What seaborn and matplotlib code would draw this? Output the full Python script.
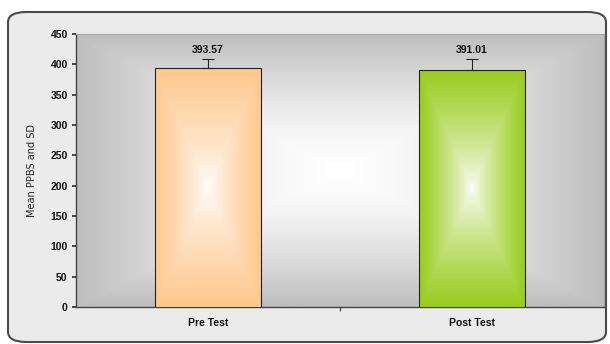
import numpy as np
import pandas as pd
import matplotlib
matplotlib.use("Agg")
import matplotlib.pyplot as plt
import seaborn as sns
from matplotlib.patches import FancyBboxPatch
from matplotlib.colors import to_rgb

categories = ["Pre Test", "Post Test"]
means = [393.57, 391.01]
sds = [14.5, 17.0]
value_labels = ["393.57", "391.01"]
bar_colors = ["#FFC88E", "#99CC1E"]
y_ticks = [0, 50, 100, 150, 200, 250, 300, 350, 400, 450]

sns.set_theme(style="white")
plt.rcParams["font.family"] = ["Liberation Sans Narrow", "Liberation Sans", "DejaVu Sans"]

fig = plt.figure(figsize=(6.10, 3.44), dpi=100)
fig.patch.set_facecolor("white")

# rounded frame
frame = FancyBboxPatch((8/610, 2/344), 598/610, 330/344,
                       boxstyle="round,pad=0,rounding_size=0.03",
                       transform=fig.transFigure, facecolor="#ebebeb",
                       edgecolor="#4a4a4a", linewidth=1.5, zorder=-10)
fig.patches.append(frame)

ax = fig.add_axes([76/610, 1-307/344, 528/610, 273/344])
ax.set_facecolor("none")

df = pd.DataFrame({"cat": categories, "mean": means})
sns.barplot(data=df, x="cat", y="mean", hue="cat", palette=bar_colors,
            width=0.4, edgecolor="#222222", linewidth=0.8, legend=False,
            errorbar=None, ax=ax, zorder=3)

def rect_grad(n, m, p=1.0):
    u = np.linspace(-1, 1, m)[None, :]
    v = np.linspace(-1, 1, n)[:, None]
    d = np.maximum(np.abs(u), np.abs(v))
    return np.clip(d, 0, 1) ** p

# plot-area background gradient
g = rect_grad(200, 200, 1.5)
edge = np.array(to_rgb("#bdbdbd"))
img = (1 - g[..., None]) * np.ones(3) + g[..., None] * edge
ax.imshow(img, extent=(0, 1, 0, 1), transform=ax.transAxes, aspect="auto",
          zorder=0, interpolation="bilinear")

# bar gradients
for patch, col in zip(ax.patches, bar_colors):
    x0, y0 = patch.get_x(), patch.get_y()
    w, h = patch.get_width(), patch.get_height()
    gg = rect_grad(200, 100, 0.75)
    c = np.array(to_rgb(col))
    im = (1 - gg[..., None]) * np.ones(3) + gg[..., None] * c
    ii = ax.imshow(im, extent=(x0, x0 + w, y0, y0 + h), aspect="auto",
                   zorder=3.5, interpolation="bilinear")
    ii.set_clip_path(patch)
    patch.set_zorder(4)
    patch.set_facecolor("none")

xs = np.arange(len(categories))
ax.errorbar(xs, means, yerr=[np.zeros(len(sds)), sds], fmt="none",
            ecolor="#222222", elinewidth=0.8, capsize=4, capthick=0.8, zorder=5)
for x, m, s, lab in zip(xs, means, sds, value_labels):
    ax.annotate(lab, (x, m + s), xytext=(0, 3), textcoords="offset points",
                ha="center", va="bottom", fontsize=7.5, fontweight="bold",
                color="#111111", zorder=6)

ax.set_xlim(-0.5, 1.5)
ax.set_ylim(0, 450)
ax.set_yticks(y_ticks)
ax.set_yticklabels([str(t) for t in y_ticks], fontsize=7.5, fontweight="bold", color="#111111")
ax.set_xticks(xs)
ax.set_xticklabels(categories, fontsize=7.5, fontweight="bold", color="#111111")
ax.set_xticks([0.5], minor=True)
ax.tick_params(axis="x", which="major", length=0, pad=8)
ax.tick_params(axis="x", which="minor", length=3, color="#555555", direction="out", bottom=True)
ax.tick_params(axis="y", length=3, color="#333333", direction="out", left=True, pad=3)
ax.set_xlabel("")
ax.set_ylabel("Mean PPBS and SD", fontsize=7, color="#222222",
              family=["DejaVu Sans"], labelpad=10)

for s in ["left", "bottom"]:
    ax.spines[s].set_color("#444444")
    ax.spines[s].set_linewidth(1.0)
for s in ["top", "right"]:
    ax.spines[s].set_color("#a8a8a8")
    ax.spines[s].set_linewidth(0.8)

fig.savefig("out.png", dpi=100, facecolor=fig.get_facecolor())
